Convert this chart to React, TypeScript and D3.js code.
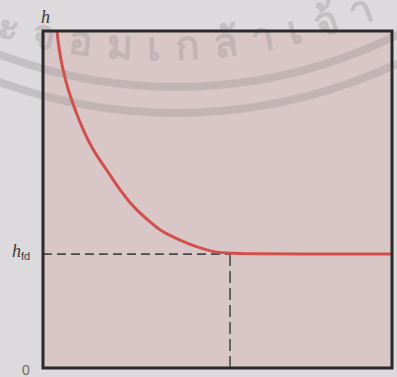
import React from "react";
import * as d3 from "d3";

// Curve: distance along channel (arbitrary units) vs depth h
const xValues = [0.4, 0.46, 0.57, 0.72, 0.92, 1.15, 1.43, 1.63, 1.92, 2.21, 2.49, 2.78, 3.07, 3.35, 3.64, 3.93, 4.3, 4.87, 5.36, 10];
const hValues = [1.0, 0.944, 0.884, 0.825, 0.766, 0.706, 0.647, 0.617, 0.573, 0.528, 0.49, 0.46, 0.433, 0.409, 0.393, 0.379, 0.363, 0.344, 0.338, 0.338];
const hFd = 0.338;
const xFd = 5.36;
const yLabels = ["h", "0"];
const watermarkText = "ะจอมเกล้าเจ้า";

const W = 397;
const H = 377;
const left = 43, right = 392, top = 31, bottom = 368;

export default function App() {
  const x = d3.scaleLinear().domain([0, 10]).range([left, right]);
  const y = d3.scaleLinear().domain([0, 1]).range([bottom, top]);
  const pts = xValues.map((v, i) => [v, hValues[i]] as [number, number]);
  const line = d3
    .line<[number, number]>()
    .x((d) => x(d[0]))
    .y((d) => y(d[1]))
    .curve(d3.curveBasis);

  const cx = 176, cy = -408;
  const arc = (r: number) => {
    const p = d3.path();
    p.arc(cx, cy, r, Math.PI * 0.95, Math.PI * 0.05, true);
    return p.toString();
  };
  const textArc = (() => {
    const p = d3.path();
    p.arc(160, -526, 586, Math.acos(-165 / 586), Math.PI * 0.3, true);
    return p.toString();
  })();

  return (
    <svg
      width={W}
      height={H}
      style={{ position: "absolute", left: 0, top: 0, background: "#dcdadd" }}
    >
      <rect x={0} y={0} width={W} height={H} fill="#dcdadd" />
      <rect x={left} y={top} width={right - left} height={bottom - top} fill="#d9c7c7" />
      {/* watermark */}
      <g opacity={0.4}>
        <path d={arc(495)} fill="none" stroke="#a09a9c" strokeWidth={8} />
        <path d={arc(521)} fill="none" stroke="#a09a9c" strokeWidth={8} />
        <path id="wm" d={textArc} fill="none" stroke="none" />
        <text
          fontFamily="Noto Sans, DejaVu Sans, sans-serif"
          fontSize={40}
          fontWeight="bold"
          fill="#a09a9c"
          letterSpacing={15}
        >
          <textPath href="#wm" startOffset="0">
            {watermarkText}
          </textPath>
        </text>
      </g>
      {/* dashed guides */}
      <line
        x1={x(0)}
        x2={x(xFd)}
        y1={y(hFd)}
        y2={y(hFd)}
        stroke="#4a4a4a"
        strokeWidth={1.6}
        strokeDasharray="9,5"
      />
      <line
        x1={x(xFd)}
        x2={x(xFd)}
        y1={y(hFd)}
        y2={y(0)}
        stroke="#4a4a4a"
        strokeWidth={1.6}
        strokeDasharray="12,5"
      />
      {/* curve */}
      <path d={line(pts) || ""} fill="none" stroke="#d2504c" strokeWidth={3} />
      {/* frame */}
      <rect
        x={left}
        y={top}
        width={right - left}
        height={bottom - top}
        fill="none"
        stroke="#2a2a2a"
        strokeWidth={3}
      />
      {/* labels */}
      <text
        x={41}
        y={23}
        fontFamily="Liberation Serif, serif"
        fontStyle="italic"
        fontSize={18}
        fill="#3a3a3a"
      >
        {yLabels[0]}
      </text>
      <text
        x={12}
        y={y(hFd) + 3}
        fontFamily="Liberation Serif, serif"
        fontStyle="italic"
        fontSize={18}
        fill="#3a3a3a"
      >
        {yLabels[0]}
        <tspan fontSize={11} dy={3} fontStyle="normal" fontFamily="Liberation Sans, sans-serif">
          fd
        </tspan>
      </text>
      <text
        x={22}
        y={375}
        fontFamily="Liberation Sans, sans-serif"
        fontSize={14}
        fill="#6a6a6a"
      >
        {yLabels[1]}
      </text>
    </svg>
  );
}
